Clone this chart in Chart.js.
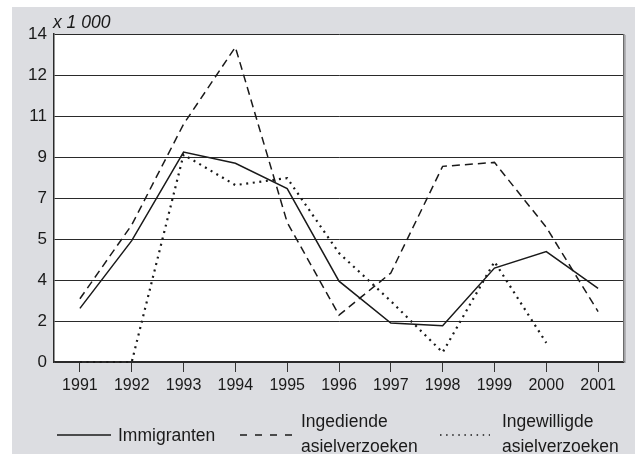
<!DOCTYPE html>
<html>
<head>
<meta charset="utf-8">
<script src="https://cdn.jsdelivr.net/npm/chart.js@4/dist/chart.umd.min.js"></script>
<style>
html,body{margin:0;padding:0;background:#ffffff;}
#wrap{width:635px;height:454px;position:relative;}
</style>
</head>
<body>
<div id="wrap"><canvas id="c" width="635" height="454"></canvas></div>
<script>
// ---- data ----
const years = ['1991','1992','1993','1994','1995','1996','1997','1998','1999','2000','2001'];
const immigranten  = [2.29, 5.18, 8.96, 8.48, 7.40, 3.45, 1.66, 1.55, 4.01, 4.71, 3.14];
const ingediende   = [2.70, 5.85, 10.15, 13.44, 5.96, 2.00, 3.80, 8.35, 8.52, 5.75, 2.15];
const ingewilligde = [0, 0, 8.85, 7.55, 7.85, 4.65, 2.60, 0.41, 4.28, 0.82, null];
const yTickValues = [0, 1.75, 3.5, 5.25, 7, 8.75, 10.5, 12.25, 14];
const yTickLabels = ['0','2','4','5','7','9','11','12','14'];
const unitLabel = 'x 1 000';
const seriesNames = ['Immigranten', ['Ingediende','asielverzoeken'], ['Ingewilligde','asielverzoeken']];

const FONT = 'Liberation Sans, Arial, Helvetica, sans-serif';
const INK = '#1a1a1a';
const BG = '#dcdde1';

const decorPlugin = {
  id: 'decor',
  beforeDraw(chart) {
    const ctx = chart.ctx, a = chart.chartArea;
    ctx.save();
    ctx.fillStyle = '#ffffff';
    ctx.fillRect(0, 0, chart.width, chart.height);
    ctx.fillStyle = BG;
    ctx.fillRect(12, 7, chart.width - 12, chart.height - 7);
    ctx.fillStyle = '#ffffff';
    ctx.fillRect(a.left, a.top, a.right - a.left, a.bottom - a.top);
    ctx.restore();
  },
  afterDraw(chart) {
    const ctx = chart.ctx, a = chart.chartArea;
    ctx.save();
    // right frame with shadow
    ctx.strokeStyle = '#6b6b6b';
    ctx.lineWidth = 1.5;
    ctx.beginPath(); ctx.moveTo(a.right - 0.25, a.top); ctx.lineTo(a.right - 0.25, a.bottom); ctx.stroke();
    ctx.strokeStyle = '#a9a9ad';
    ctx.lineWidth = 1.2;
    ctx.beginPath(); ctx.moveTo(a.right + 1.2, a.top + 1); ctx.lineTo(a.right + 1.2, a.bottom + 1); ctx.stroke();
    // unit label
    ctx.fillStyle = INK;
    ctx.font = 'italic 17.5px ' + FONT;
    ctx.textBaseline = 'alphabetic';
    ctx.textAlign = 'left';
    ctx.fillText(unitLabel, a.left - 1, a.top - 6);
    // legend
    ctx.font = '17.5px ' + FONT;
    const ly = 435;
    const items = [
      {x0: 57, x1: 111, dash: [], lw: 1.5, tx: 118},
      {x0: 240, x1: 294, dash: [7, 8], lw: 1.5, tx: 301},
      {x0: 440, x1: 490, dash: [1.5, 4.6], lw: 1.6, tx: 502}
    ];
    items.forEach((it, i) => {
      ctx.strokeStyle = INK;
      ctx.lineWidth = it.lw;
      ctx.setLineDash(it.dash);
      ctx.beginPath(); ctx.moveTo(it.x0, ly); ctx.lineTo(it.x1, ly); ctx.stroke();
      ctx.setLineDash([]);
      const name = seriesNames[i];
      if (Array.isArray(name)) {
        ctx.fillText(name[0], it.tx, 427);
        ctx.fillText(name[1], it.tx, 452);
      } else {
        ctx.fillText(name, it.tx, 441);
      }
    });
    ctx.restore();
  }
};

new Chart(document.getElementById('c'), {
  type: 'line',
  data: {
    labels: years,
    datasets: [
      {label: 'Immigranten', data: immigranten, borderColor: INK, borderWidth: 1.5, borderDash: []},
      {label: 'Ingediende asielverzoeken', data: ingediende, borderColor: INK, borderWidth: 1.5, borderDash: [8, 5]},
      {label: 'Ingewilligde asielverzoeken', data: ingewilligde, borderColor: INK, borderWidth: 2.2, borderDash: [2, 4.6], borderCapStyle: 'butt', clip: false}
    ]
  },
  options: {
    responsive: false,
    animation: false,
    devicePixelRatio: 1,
    layout: {padding: {left: 12, top: 34, right: 11, bottom: 0}},
    plugins: {legend: {display: false}, tooltip: {enabled: false}},
    elements: {point: {radius: 0}, line: {tension: 0, fill: false}},
    scales: {
      x: {
        type: 'category',
        offset: true,
        grid: {offset: false, drawOnChartArea: false, drawTicks: true, tickLength: 10, color: '#333333', lineWidth: 1},
        border: {display: true, color: '#2a2a2a', width: 1.5},
        ticks: {color: INK, font: {family: FONT, size: 16}, padding: 4, maxRotation: 0, autoSkip: false},
        afterFit(s) { s.height = 92; }
      },
      y: {
        min: 0, max: 14,
        afterBuildTicks(s) { s.ticks = yTickValues.map(v => ({value: v})); },
        ticks: {color: INK, font: {family: FONT, size: 17}, padding: 7, callback: (v, i) => yTickLabels[i]},
        grid: {drawTicks: false, color: '#2a2a2a', lineWidth: 1},
        border: {display: true, color: '#2a2a2a', width: 1.5},
        afterFit(s) { s.width = 42; }
      }
    }
  },
  plugins: [decorPlugin]
});
</script>
</body>
</html>
